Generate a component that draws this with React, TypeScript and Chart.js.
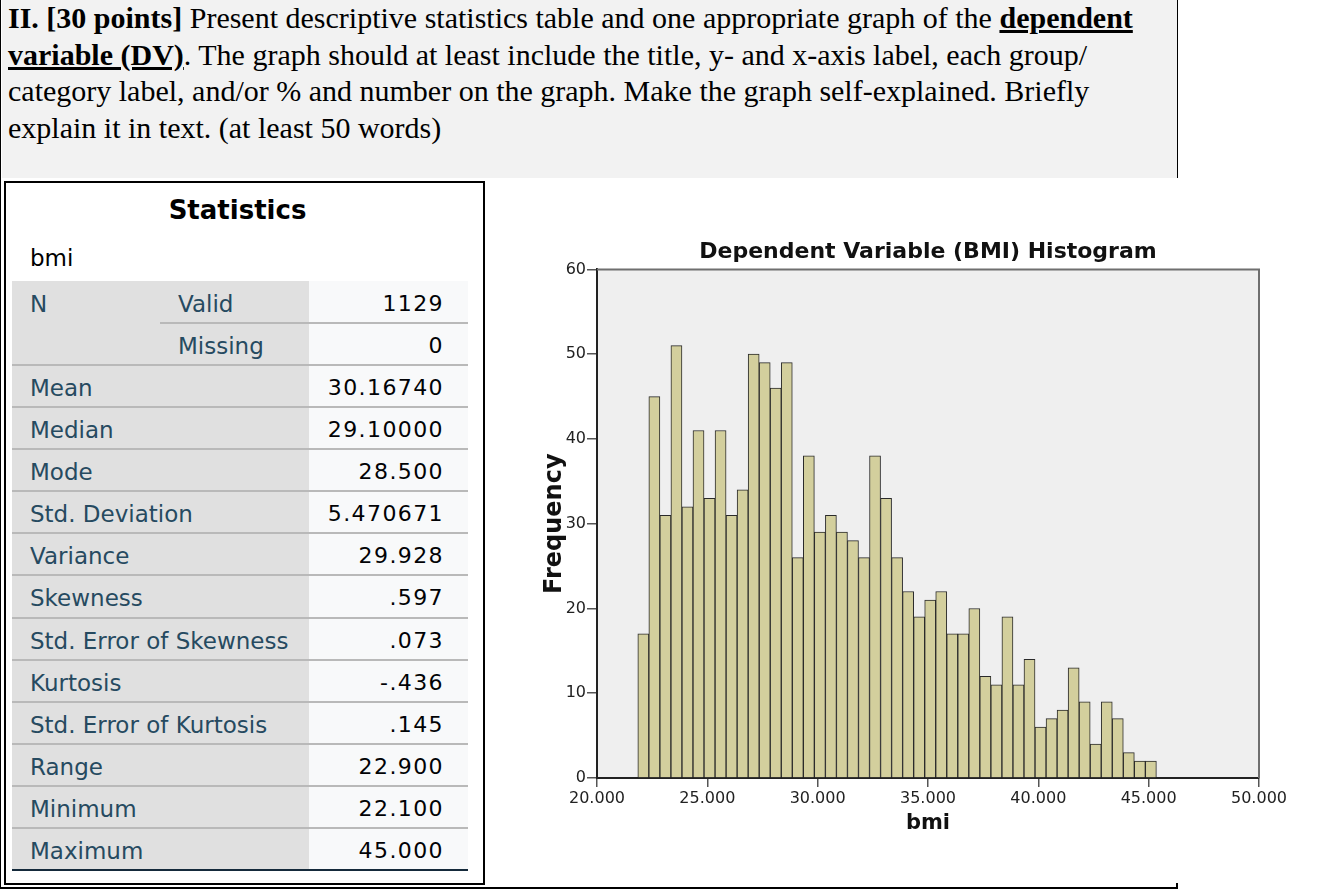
import React, { useEffect, useRef } from "react";
import { Chart, registerables } from "chart.js";

Chart.register(...registerables);

// ---- Histogram data (bin centres of width 0.5, counts) ----
const binCenters = [
  22.1, 22.6, 23.1, 23.6, 24.1, 24.6, 25.1, 25.6, 26.1, 26.6,
  27.1, 27.6, 28.1, 28.6, 29.1, 29.6, 30.1, 30.6, 31.1, 31.6,
  32.1, 32.6, 33.1, 33.6, 34.1, 34.6, 35.1, 35.6, 36.1, 36.6,
  37.1, 37.6, 38.1, 38.6, 39.1, 39.6, 40.1, 40.6, 41.1, 41.6,
  42.1, 42.6, 43.1, 43.6, 44.1, 44.6, 45.1,
];
const frequencies = [
  17, 45, 31, 51, 32, 41, 33, 41, 31, 34,
  50, 49, 46, 49, 26, 38, 29, 31, 29, 28,
  26, 38, 33, 26, 22, 19, 21, 22, 17, 17,
  20, 12, 11, 19, 11, 14, 6, 7, 8, 13,
  9, 4, 9, 7, 3, 2, 2,
];
const xTickValues = [20, 25, 30, 35, 40, 45, 50];
const yTickValues = [0, 10, 20, 30, 40, 50, 60];

const chartTitle = "Dependent Variable (BMI) Histogram";
const xAxisTitle = "bmi";
const yAxisTitle = "Frequency";

// ---- Statistics table ----
const tableTitle = "Statistics";
const tableVariable = "bmi";
const nLabel = "N";
const nSubLabels = ["Valid", "Missing"];
const nValues = ["1129", "0"];
const statLabels = [
  "Mean", "Median", "Mode", "Std. Deviation", "Variance", "Skewness",
  "Std. Error of Skewness", "Kurtosis", "Std. Error of Kurtosis",
  "Range", "Minimum", "Maximum",
];
const statValues = [
  "30.16740", "29.10000", "28.500", "5.470671", "29.928", ".597",
  ".073", "-.436", ".145", "22.900", "22.100", "45.000",
];

const SANS = '"DejaVu Sans", sans-serif';

function Histogram() {
  const ref = useRef<HTMLCanvasElement | null>(null);
  useEffect(() => {
    if (!ref.current) return;
    const plotFrame = {
      id: "plotFrame",
      beforeDraw(chart: any) {
        const { ctx, chartArea } = chart;
        ctx.save();
        ctx.fillStyle = "#efefef";
        ctx.fillRect(chartArea.left, chartArea.top, chartArea.right - chartArea.left, chartArea.bottom - chartArea.top);
        ctx.restore();
      },
      afterDraw(chart: any) {
        const { ctx, chartArea } = chart;
        ctx.save();
        ctx.strokeStyle = "#6f6f6f";
        ctx.lineWidth = 2;
        ctx.beginPath();
        ctx.moveTo(chartArea.left, chartArea.top);
        ctx.lineTo(chartArea.right, chartArea.top);
        ctx.lineTo(chartArea.right, chartArea.bottom);
        ctx.stroke();
        ctx.restore();
      },
    };
    const chart = new Chart(ref.current, {
      type: "bar",
      data: {
        datasets: [
          {
            data: binCenters.map((x, i) => ({ x, y: frequencies[i] })),
            backgroundColor: "#d3cf9d",
            borderColor: "#2a2a2a",
            borderWidth: 1,
            barPercentage: 1,
            categoryPercentage: 1,
          } as any,
        ],
      },
      options: {
        animation: false,
        responsive: false,
        maintainAspectRatio: false,
        layout: { padding: { left: 18, right: 61, top: 0, bottom: 25 } },
        plugins: {
          legend: { display: false },
          tooltip: { enabled: false },
          title: {
            display: true,
            text: chartTitle,
            fullSize: false,
            color: "#111",
            font: { family: SANS, size: 22, weight: "bold" },
            padding: { top: 15, bottom: 4 },
          } as any,
        },
        scales: {
          x: {
            type: "linear",
            min: 20,
            max: 50,
            offset: false,
            afterBuildTicks: (s: any) => {
              s.ticks = xTickValues.map((v) => ({ value: v }));
            },
            afterFit: (s: any) => {
              s.height = 62;
            },
            ticks: {
              callback: (v: any) => Number(v).toFixed(3),
              font: { family: SANS, size: 16 },
              color: "#222",
              padding: 2,
              maxRotation: 0,
              autoSkip: false,
            },
            grid: {
              display: true,
              offset: false,
              drawOnChartArea: false,
              drawTicks: true,
              tickLength: 9,
              color: "#555",
              lineWidth: 1.5,
            },
            border: { display: true, color: "#222", width: 2 },
            title: {
              display: true,
              text: xAxisTitle,
              color: "#111",
              font: { family: SANS, size: 21, weight: "bold" },
              padding: { top: 0, bottom: 4 },
            },
            z: 1,
          } as any,
          y: {
            type: "linear",
            min: 0,
            max: 60,
            afterBuildTicks: (s: any) => {
              s.ticks = yTickValues.map((v) => ({ value: v }));
            },
            afterFit: (s: any) => {
              s.width = 59;
            },
            ticks: {
              font: { family: SANS, size: 16 },
              color: "#222",
              padding: 1,
            },
            grid: {
              display: true,
              drawOnChartArea: false,
              drawTicks: true,
              tickLength: 10,
              color: "#555",
              lineWidth: 1.5,
            },
            border: { display: true, color: "#222", width: 2 },
            title: {
              display: true,
              text: yAxisTitle,
              color: "#111",
              font: { family: SANS, size: 24, weight: "bold" },
              padding: { top: 2, bottom: 2 },
            },
            z: 1,
          } as any,
        },
      },
      plugins: [plotFrame],
    });
    return () => chart.destroy();
  }, []);
  return (
    <canvas
      ref={ref}
      width={800}
      height={641}
      style={{ position: "absolute", left: 520, top: 224, width: 800, height: 641, display: "block" }}
    />
  );
}

const ROW_TOP = 281;
const ROW_H = 42.07;
const LABEL_COLOR = "#264a60";

function StatsTable() {
  const rows: React.ReactNode[] = [];
  const total = 2 + statLabels.length;
  rows.push(
    <div key="lbg" style={{ position: "absolute", left: 12, top: ROW_TOP, width: 297, height: ROW_H * total, background: "#e0e0e0" }} />
  );
  rows.push(
    <div key="vbg" style={{ position: "absolute", left: 309, top: ROW_TOP, width: 159, height: ROW_H * total, background: "#f8f9fa" }} />
  );
  const textStyle = (left: number, top: number, color: string): React.CSSProperties => ({
    position: "absolute",
    left,
    top,
    height: ROW_H,
    font: `23px ${SANS}`,
    lineHeight: `${ROW_H}px`,
    color,
    whiteSpace: "nowrap",
  });
  const valueStyle = (top: number): React.CSSProperties => ({
    position: "absolute",
    left: 309,
    width: 135,
    top,
    height: ROW_H,
    font: `22px ${SANS}`,
    lineHeight: `${ROW_H}px`,
    letterSpacing: "1.4px",
    color: "#010205",
    textAlign: "right",
    whiteSpace: "nowrap",
  });
  rows.push(<div key="N" style={textStyle(30, ROW_TOP + 2, LABEL_COLOR)}>{nLabel}</div>);
  nSubLabels.forEach((lab, i) => {
    const top = ROW_TOP + i * ROW_H + 2;
    rows.push(<div key={"ns" + i} style={textStyle(178, top, LABEL_COLOR)}>{lab}</div>);
    rows.push(<div key={"nv" + i} style={valueStyle(top)}>{nValues[i]}</div>);
  });
  rows.push(
    <div key="sep0" style={{ position: "absolute", left: 160, top: ROW_TOP + ROW_H - 1, width: 308, height: 2, background: "#b9b9b9" }} />
  );
  rows.push(
    <div key="sep1" style={{ position: "absolute", left: 12, top: ROW_TOP + 2 * ROW_H - 1, width: 456, height: 2, background: "#b9b9b9" }} />
  );
  statLabels.forEach((lab, j) => {
    const i = j + 2;
    const top = ROW_TOP + i * ROW_H + 2;
    rows.push(<div key={"sl" + j} style={textStyle(30, top, LABEL_COLOR)}>{lab}</div>);
    rows.push(<div key={"sv" + j} style={valueStyle(top)}>{statValues[j]}</div>);
    const last = j === statLabels.length - 1;
    rows.push(
      <div
        key={"sp" + j}
        style={{
          position: "absolute",
          left: 12,
          top: ROW_TOP + (i + 1) * ROW_H - 1,
          width: 456,
          height: 2,
          background: last ? "#152a3b" : "#b9b9b9",
        }}
      />
    );
  });
  return (
    <>
      <div style={{ position: "absolute", left: 4, top: 181, width: 481, height: 704, border: "2px solid #000", boxSizing: "border-box" }} />
      <div style={{ position: "absolute", left: 5, top: 193, width: 465, textAlign: "center", font: `bold 26px ${SANS}`, lineHeight: "34px", color: "#000" }}>
        {tableTitle}
      </div>
      <div style={{ position: "absolute", left: 30, top: 243, font: `23px ${SANS}`, lineHeight: "30px", color: "#000" }}>
        {tableVariable}
      </div>
      {rows}
    </>
  );
}

export default function App() {
  const u: React.CSSProperties = { fontWeight: "bold", textDecoration: "underline" };
  return (
    <div style={{ position: "absolute", left: 0, top: 0, width: 1330, height: 896, background: "#fff", overflow: "hidden" }}>
      <div style={{ position: "absolute", left: 2, top: 0, width: 1175, height: 178, background: "#f2f2f2", borderRight: "1px solid #000" }} />
      <div style={{ position: "absolute", left: 0, top: 0, width: 1, height: 888, background: "#000" }} />
      <div style={{ position: "absolute", left: 0, top: 887, width: 1178, height: 1.5, background: "#000" }} />
      <div style={{ position: "absolute", left: 1176, top: 883, width: 1.5, height: 5, background: "#000" }} />
      <div
        style={{
          position: "absolute",
          left: 8,
          top: 0,
          font: '30px "Liberation Serif", "Times New Roman", serif',
          lineHeight: "36.7px",
          color: "#000",
          whiteSpace: "nowrap",
        }}
      >
        <b>II. [30 points]</b> Present descriptive statistics table and one appropriate graph of the <span style={u}>dependent</span>
        <br />
        <span style={u}>variable (DV)</span>. The graph should at least include the title, y- and x-axis label, each group/
        <br />
        category label, and/or % and number on the graph. Make the graph self-explained. Briefly
        <br />
        explain it in text. (at least 50 words)
      </div>
      <StatsTable />
      <Histogram />
    </div>
  );
}
